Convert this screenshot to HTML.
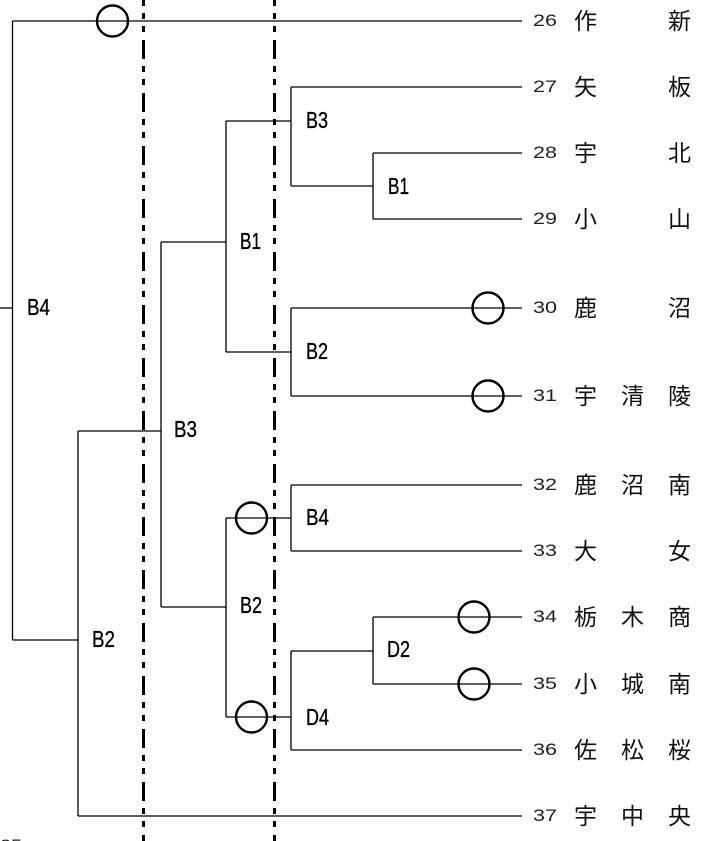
<!DOCTYPE html>
<html><head><meta charset="utf-8"><style>
html,body{margin:0;padding:0;background:#fff;width:712px;height:841px;overflow:hidden}
svg{display:block}
.num{font-family:"Liberation Sans",sans-serif;font-size:17px;fill:#222}
.jp{font-family:"Liberation Sans","Noto Sans CJK JP",sans-serif;font-size:23px;fill:#111}
.lb{font-family:"Liberation Sans",sans-serif;font-size:23px;fill:#000;stroke:#000;stroke-width:0.35}
</style></head><body>
<svg width="712" height="841" viewBox="0 0 712 841" xmlns="http://www.w3.org/2000/svg">
<g stroke="#000" stroke-width="1.3" fill="none">
<line x1="12.5" y1="21" x2="522" y2="21"/>
<line x1="291" y1="87" x2="522" y2="87"/>
<line x1="373" y1="153" x2="522" y2="153"/>
<line x1="373" y1="219" x2="522" y2="219"/>
<line x1="291" y1="308" x2="522" y2="308"/>
<line x1="291" y1="396" x2="522" y2="396"/>
<line x1="291" y1="485" x2="522" y2="485"/>
<line x1="291" y1="551" x2="522" y2="551"/>
<line x1="373" y1="617" x2="522" y2="617"/>
<line x1="373" y1="684" x2="522" y2="684"/>
<line x1="291" y1="750" x2="522" y2="750"/>
<line x1="78" y1="816" x2="522" y2="816"/>
<line x1="373" y1="153" x2="373" y2="219"/>
<line x1="291" y1="87" x2="291" y2="186"/>
<line x1="291" y1="308" x2="291" y2="396"/>
<line x1="226" y1="121" x2="226" y2="352"/>
<line x1="291" y1="485" x2="291" y2="551"/>
<line x1="373" y1="617" x2="373" y2="684"/>
<line x1="291" y1="651" x2="291" y2="750"/>
<line x1="226" y1="518" x2="226" y2="717"/>
<line x1="161" y1="242" x2="161" y2="607"/>
<line x1="78" y1="431" x2="78" y2="816"/>
<line x1="12.5" y1="21" x2="12.5" y2="640"/>
<line x1="291" y1="186" x2="373" y2="186"/>
<line x1="226" y1="121" x2="291" y2="121"/>
<line x1="226" y1="352" x2="291" y2="352"/>
<line x1="161" y1="242" x2="226" y2="242"/>
<line x1="226" y1="518" x2="291" y2="518"/>
<line x1="291" y1="651" x2="373" y2="651"/>
<line x1="226" y1="717" x2="291" y2="717"/>
<line x1="161" y1="607" x2="226" y2="607"/>
<line x1="78" y1="431" x2="161" y2="431"/>
<line x1="12.5" y1="640" x2="78" y2="640"/>
<line x1="0" y1="308" x2="12.5" y2="308"/>
</g>
<g stroke="#000" stroke-width="3" fill="none" stroke-dasharray="19 7 6 7 6 8" stroke-dashoffset="13">
<line x1="143.5" y1="0" x2="143.5" y2="841"/>
<line x1="274.5" y1="0" x2="274.5" y2="841"/>
</g>
<g stroke="#000" stroke-width="2.4" fill="none">
<circle cx="112.5" cy="21" r="15.5"/>
<circle cx="488" cy="308" r="15.5"/>
<circle cx="488" cy="396" r="15.5"/>
<circle cx="474" cy="617" r="15.5"/>
<circle cx="474" cy="684" r="15.5"/>
<circle cx="251.5" cy="518" r="15.5"/>
<circle cx="251.5" cy="717" r="15.5"/>
</g>
<g class="lb">
<text x="306" y="128" textLength="22" lengthAdjust="spacingAndGlyphs">B3</text>
<text x="388" y="194" textLength="21" lengthAdjust="spacingAndGlyphs">B1</text>
<text x="240" y="249" textLength="21" lengthAdjust="spacingAndGlyphs">B1</text>
<text x="306" y="359" textLength="22" lengthAdjust="spacingAndGlyphs">B2</text>
<text x="27" y="315" textLength="23" lengthAdjust="spacingAndGlyphs">B4</text>
<text x="174" y="437" textLength="23" lengthAdjust="spacingAndGlyphs">B3</text>
<text x="306" y="525" textLength="23" lengthAdjust="spacingAndGlyphs">B4</text>
<text x="240" y="613" textLength="22" lengthAdjust="spacingAndGlyphs">B2</text>
<text x="92" y="647" textLength="23" lengthAdjust="spacingAndGlyphs">B2</text>
<text x="387" y="657" textLength="23" lengthAdjust="spacingAndGlyphs">D2</text>
<text x="306" y="725" textLength="23" lengthAdjust="spacingAndGlyphs">D4</text>
</g>
<g class="num">
<text x="533" y="26" textLength="24" lengthAdjust="spacingAndGlyphs">26</text>
<text x="533" y="92" textLength="24" lengthAdjust="spacingAndGlyphs">27</text>
<text x="533" y="158" textLength="24" lengthAdjust="spacingAndGlyphs">28</text>
<text x="533" y="224" textLength="24" lengthAdjust="spacingAndGlyphs">29</text>
<text x="533" y="313" textLength="24" lengthAdjust="spacingAndGlyphs">30</text>
<text x="533" y="401" textLength="24" lengthAdjust="spacingAndGlyphs">31</text>
<text x="533" y="490" textLength="24" lengthAdjust="spacingAndGlyphs">32</text>
<text x="533" y="556" textLength="24" lengthAdjust="spacingAndGlyphs">33</text>
<text x="533" y="622" textLength="24" lengthAdjust="spacingAndGlyphs">34</text>
<text x="533" y="689" textLength="24" lengthAdjust="spacingAndGlyphs">35</text>
<text x="533" y="755" textLength="24" lengthAdjust="spacingAndGlyphs">36</text>
<text x="533" y="821" textLength="24" lengthAdjust="spacingAndGlyphs">37</text>
<text x="0" y="851" textLength="22" lengthAdjust="spacingAndGlyphs">25</text>
</g>
<g class="jp">
<text x="574" y="29">作</text><text x="668" y="29">新</text>
<text x="574" y="95">矢</text><text x="668" y="95">板</text>
<text x="574" y="161">宇</text><text x="668" y="161">北</text>
<text x="574" y="227">小</text><text x="668" y="227">山</text>
<text x="574" y="316">鹿</text><text x="668" y="316">沼</text>
<text x="574" y="404">宇</text><text x="621" y="404">清</text><text x="668" y="404">陵</text>
<text x="574" y="493">鹿</text><text x="621" y="493">沼</text><text x="668" y="493">南</text>
<text x="574" y="559">大</text><text x="668" y="559">女</text>
<text x="574" y="625">栃</text><text x="621" y="625">木</text><text x="668" y="625">商</text>
<text x="574" y="692">小</text><text x="621" y="692">城</text><text x="668" y="692">南</text>
<text x="574" y="758">佐</text><text x="621" y="758">松</text><text x="668" y="758">桜</text>
<text x="574" y="824">宇</text><text x="621" y="824">中</text><text x="668" y="824">央</text>
</g>
</svg>
</body></html>
